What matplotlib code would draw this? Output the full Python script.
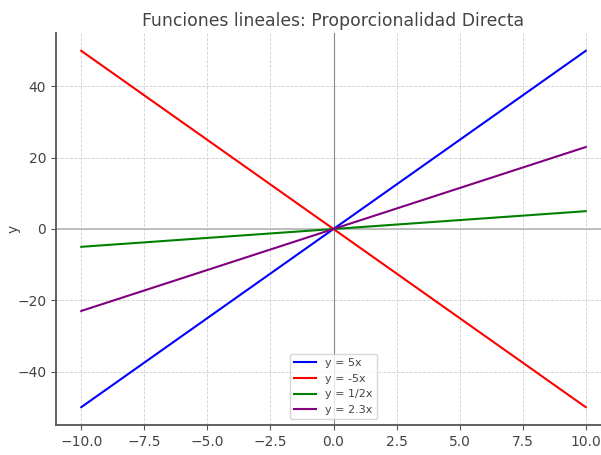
import numpy as np
import matplotlib
matplotlib.use("Agg")
import matplotlib.pyplot as plt

# Slopes of the direct-proportionality lines and their labels
slopes = [5, -5, 0.5, 2.3]
labels = ["y = 5x", "y = -5x", "y = 1/2x", "y = 2.3x"]
colors = ["blue", "red", "green", "purple"]
x_ends = [-10, 10]

text_color = "#444444"
plt.rcParams.update({
    "font.family": "DejaVu Sans",
    "text.color": text_color,
    "axes.labelcolor": text_color,
    "xtick.color": text_color,
    "ytick.color": text_color,
})

fig = plt.figure(figsize=(6.01, 4.55), dpi=100)
ax = fig.add_axes([56 / 601, 30 / 455, 555 / 601, 392 / 455])

x = np.array(x_ends, dtype=float)
for m, lab, c in zip(slopes, labels, colors):
    ax.plot(x, m * x, color=c, label=lab, linewidth=1.5)

ax.axhline(0, color="#b5b5b5", linewidth=1.2, zorder=1)
ax.axvline(0, color="#888888", linewidth=0.8, zorder=1)

ax.set_xlim(-11, 11)
ax.set_ylim(-55, 55)

ax.set_title("Funciones lineales: Proporcionalidad Directa", fontsize=12.4,
             color=text_color, pad=5)
ax.set_xlabel("x", fontsize=10)
ax.set_ylabel("y", fontsize=10)
ax.yaxis.set_label_coords(-35 / 555, 0.5)

ax.grid(True, linestyle="--", linewidth=0.6, color="#d0d0d0")
ax.set_axisbelow(True)
for side in ("top", "right"):
    ax.spines[side].set_visible(False)
for side in ("left", "bottom"):
    ax.spines[side].set_color("#555555")
    ax.spines[side].set_linewidth(1.3)
ax.tick_params(labelsize=10, color="#555555")

ax.legend(loc="lower center", fontsize=8, framealpha=0.8)

fig.savefig("out.png", dpi=100)
